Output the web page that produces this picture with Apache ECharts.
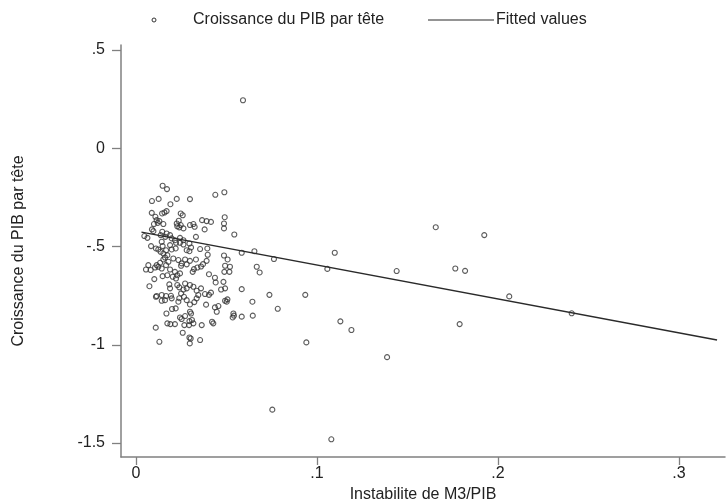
<!DOCTYPE html>
<html>
<head>
<meta charset="utf-8">
<script src="https://cdn.jsdelivr.net/npm/echarts@6/dist/echarts.min.js"></script>
<style>html,body{margin:0;padding:0;background:#fff;overflow:hidden}#c{width:727px;height:501px}</style>
</head>
<body>
<div id="c"></div>
<script>
// Instabilite de M3/PIB (x) and Croissance du PIB par tete (y)
var instab = [0.0147,0.0171,0.0088,0.0125,0.0225,0.0298,0.0438,0.0488,0.0190,0.0087,
0.0107,0.0114,0.0120,0.0099,0.0129,0.0144,0.0157,0.0169,0.0247,0.0258,
0.0236,0.0225,0.0228,0.0239,0.0247,0.0262,0.0298,0.0317,0.0324,0.0365,
0.0390,0.0414,0.0490,0.0486,0.0486,0.0379,0.0088,0.0096,0.0151,0.0145,
0.0169,0.0162,0.0188,0.0136,0.0543,0.0331,0.0046,0.0063,0.0197,0.0215,
0.0243,0.0262,0.0142,0.0147,0.0221,0.0243,0.0262,0.0295,0.0304,0.0188,
0.0166,0.0197,0.0083,0.0110,0.0123,0.0136,0.0151,0.0354,0.0394,0.0295,
0.0280,0.0219,0.0584,0.0654,0.0173,0.0160,0.0151,0.0179,0.0166,0.0133,
0.0123,0.0142,0.0114,0.0105,0.0055,0.0068,0.0081,0.0206,0.0234,0.0252,
0.0271,0.0298,0.0331,0.0280,0.0249,0.0396,0.0390,0.0370,0.0359,0.0339,
0.0320,0.0313,0.0486,0.0506,0.0492,0.0519,0.0516,0.0488,0.0667,0.0683,
0.0188,0.0215,0.0228,0.0243,0.0203,0.0221,0.0147,0.0173,0.0101,0.0271,
0.0298,0.0280,0.0262,0.0228,0.0239,0.0317,0.0335,0.0359,0.0381,0.0403,
0.0414,0.0436,0.0403,0.0440,0.0483,0.0492,0.0470,0.0074,0.0184,0.0188,
0.0584,0.0737,0.0114,0.0142,0.0166,0.0193,0.0110,0.0197,0.0160,0.0142,
0.0249,0.0265,0.0239,0.0234,0.0280,0.0298,0.0322,0.0344,0.0335,0.0387,
0.0436,0.0455,0.0492,0.0505,0.0501,0.0446,0.0643,0.0645,0.0199,0.0219,
0.0168,0.0243,0.0252,0.0298,0.0304,0.0271,0.0295,0.0317,0.0293,0.0267,
0.0309,0.0173,0.0190,0.0215,0.0420,0.0427,0.0363,0.0538,0.0534,0.0541,
0.0584,0.0109,0.0258,0.0295,0.0302,0.0354,0.0297,0.0129,
0.0762,0.0783,0.0935,0.0941,0.1098,0.1057,0.1129,0.1190,0.1387,0.1440,
0.1656,0.1924,0.1764,0.1818,0.1788,0.0753,0.1079,0.2062,0.2407,0.0591];

var growth = [-0.191,-0.208,-0.269,-0.258,-0.258,-0.259,-0.237,-0.224,-0.285,-0.329,
-0.349,-0.366,-0.380,-0.386,-0.371,-0.332,-0.327,-0.320,-0.332,-0.341,
-0.369,-0.383,-0.397,-0.403,-0.391,-0.408,-0.391,-0.386,-0.400,-0.366,
-0.371,-0.375,-0.351,-0.383,-0.408,-0.413,-0.413,-0.422,-0.386,-0.425,
-0.434,-0.451,-0.442,-0.442,-0.439,-0.451,-0.447,-0.456,-0.459,-0.468,
-0.456,-0.468,-0.476,-0.498,-0.481,-0.481,-0.490,-0.485,-0.505,-0.493,
-0.519,-0.515,-0.498,-0.510,-0.515,-0.527,-0.536,-0.513,-0.510,-0.524,
-0.519,-0.510,-0.532,-0.524,-0.544,-0.556,-0.566,-0.578,-0.595,-0.583,
-0.603,-0.612,-0.595,-0.607,-0.617,-0.595,-0.620,-0.561,-0.569,-0.586,
-0.566,-0.573,-0.566,-0.591,-0.598,-0.542,-0.573,-0.590,-0.602,-0.607,
-0.615,-0.629,-0.546,-0.566,-0.598,-0.603,-0.629,-0.629,-0.603,-0.632,
-0.617,-0.629,-0.646,-0.637,-0.654,-0.663,-0.651,-0.646,-0.666,-0.688,
-0.696,-0.713,-0.719,-0.696,-0.708,-0.705,-0.725,-0.713,-0.742,-0.746,
-0.735,-0.659,-0.641,-0.683,-0.680,-0.713,-0.719,-0.702,-0.693,-0.713,
-0.717,-0.746,-0.752,-0.747,-0.752,-0.751,-0.756,-0.764,-0.773,-0.776,
-0.739,-0.756,-0.763,-0.781,-0.773,-0.795,-0.783,-0.747,-0.764,-0.796,
-0.810,-0.803,-0.776,-0.769,-0.781,-0.832,-0.781,-0.852,-0.818,-0.815,
-0.841,-0.861,-0.869,-0.832,-0.841,-0.854,-0.880,-0.891,-0.900,-0.900,
-0.874,-0.891,-0.895,-0.895,-0.883,-0.891,-0.900,-0.841,-0.861,-0.852,
-0.857,-0.913,-0.939,-0.963,-0.968,-0.976,-0.993,-0.985,
-0.564,-0.817,-0.746,-0.988,-0.532,-0.614,-0.881,-0.925,-1.063,-0.625,
-0.402,-0.442,-0.612,-0.624,-0.895,-1.330,-1.481,-0.754,-0.840,0.244];

// Fitted values (endpoints of the linear fit)
var fitX = [0.003, 0.321];
var fitY = [-0.427, -0.976];

var xTicks = [0, 0.1, 0.2, 0.3];
var xTickLabels = ['0', '.1', '.2', '.3'];
var yTicks = [0.5, 0, -0.5, -1, -1.5];
var yTickLabels = ['.5', '0', '-.5', '-1', '-1.5'];

var seriesName = 'Croissance du PIB par tête';
var fitName = 'Fitted values';
var xTitle = 'Instabilite de M3/PIB';
var yTitle = 'Croissance du PIB par tête';

var FONT = "'Liberation Sans', Arial, sans-serif";
var FS = 16;
var TXT = '#222';
var AX = '#808080';

var scatterData = instab.map(function (v, i) { return [v, growth[i]]; });
var fitData = fitX.map(function (v, i) { return [v, fitY[i]]; });

function lab(vals, labels) {
  return function (v) {
    for (var i = 0; i < vals.length; i++) if (Math.abs(vals[i] - v) < 1e-9) return labels[i];
    return '';
  };
}

var chart = echarts.init(document.getElementById('c'), null, {renderer: 'canvas'});
chart.setOption({
  animation: false,
  backgroundColor: '#fff',
  grid: {left: 121, right: 2, top: 45, bottom: 44, containLabel: false, outerBoundsMode: 'none'},
  xAxis: {
    type: 'value', min: -0.0083, max: 0.3254,
    name: xTitle, nameLocation: 'middle', nameGap: 26,
    nameTextStyle: {fontFamily: FONT, fontSize: FS, color: TXT},
    axisLine: {show: true, onZero: false, lineStyle: {color: AX, width: 1.5}},
    axisTick: {show: true, length: 8, customValues: xTicks, lineStyle: {color: AX, width: 1.3}},
    axisLabel: {customValues: xTicks, formatter: lab(xTicks, xTickLabels), fontFamily: FONT, fontSize: FS, color: TXT, margin: 9},
    splitLine: {show: false}
  },
  yAxis: {
    type: 'value', min: -1.571, max: 0.525,
    name: yTitle, nameLocation: 'middle', nameGap: 94, nameRotate: 90,
    nameTextStyle: {fontFamily: FONT, fontSize: FS, color: TXT},
    axisLine: {show: true, onZero: false, lineStyle: {color: AX, width: 1.5}},
    axisTick: {show: true, length: 9, customValues: yTicks, lineStyle: {color: AX, width: 1.3}},
    axisLabel: {customValues: yTicks, formatter: lab(yTicks, yTickLabels), fontFamily: FONT, fontSize: FS, color: TXT, margin: 16},
    splitLine: {show: false}
  },
  series: [
    {
      name: seriesName, type: 'scatter', data: scatterData,
      symbol: 'circle', symbolSize: 5,
      itemStyle: {color: 'rgba(255,255,255,0)', borderColor: '#333', borderWidth: 1.1}
    },
    {
      name: fitName, type: 'line', data: fitData, showSymbol: false,
      lineStyle: {color: '#2a2a2a', width: 1.5}
    }
  ],
  graphic: [
    {type: 'circle', shape: {cx: 154, cy: 20, r: 2}, style: {fill: 'none', stroke: '#333', lineWidth: 1}},
    {type: 'text', x: 193, y: 20, style: {text: seriesName, font: FS + 'px ' + FONT, fill: TXT, textVerticalAlign: 'middle'}},
    {type: 'line', shape: {x1: 428, y1: 20, x2: 494, y2: 20}, style: {stroke: '#2a2a2a', lineWidth: 1.2}},
    {type: 'text', x: 496, y: 20, style: {text: fitName, font: FS + 'px ' + FONT, fill: TXT, textVerticalAlign: 'middle'}}
  ]
});
</script>
</body>
</html>
